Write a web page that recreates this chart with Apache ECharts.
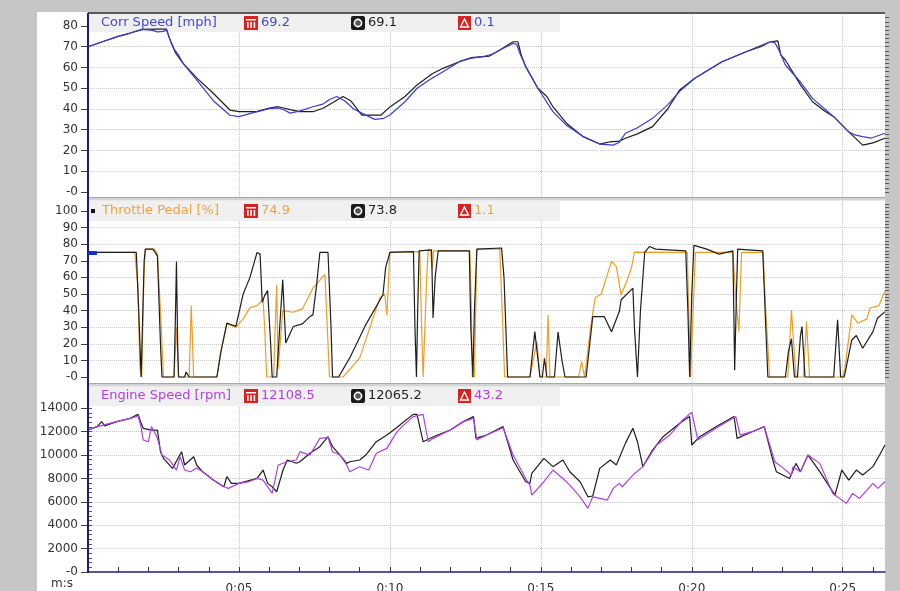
<!DOCTYPE html>
<html>
<head>
<meta charset="utf-8">
<title>Lap overlay</title>
<script src="https://cdn.jsdelivr.net/npm/echarts@6.0.0/dist/echarts.min.js"></script>
<style>
html, body { margin:0; padding:0; background:#c6c6c6; }
#main { width:900px; height:591px; }
</style>
</head>
<body>
<div id="main"></div>
<script>
// [time s, value] - black = reference lap, coloured = current lap
var speedRef = [[0,70],[0.5,72.5],[1.0,75],[1.4,76.6],[1.8,78.4],[2.3,78.5],[2.6,78.5],[2.75,72],[2.9,67],[3.15,62],[3.6,55],[4.15,47.6],[4.7,39.5],[5.0,38.7],[5.6,38.7],[6.0,40.4],[6.3,41.1],[6.7,39.7],[7.0,38.7],[7.45,38.7],[7.8,40.5],[8.1,43],[8.45,46],[8.7,44],[9.07,37],[9.3,37],[9.7,37],[10.0,41],[10.5,46],[10.9,51.6],[11.4,57],[11.76,59.6],[12.3,62.8],[12.7,64.8],[13.08,65.2],[13.3,65.5],[13.64,68.4],[14.08,72.4],[14.24,72.4],[14.35,66],[14.5,60.4],[14.9,50],[15.2,46],[15.4,41.1],[15.86,33],[16.4,26.7],[16.95,23.1],[17.3,24.2],[17.6,24.5],[17.8,25.9],[18.2,28],[18.7,31.5],[19.2,40],[19.6,49.2],[20.1,54.8],[21.0,62.8],[21.8,67.6],[22.6,72.4],[22.85,72.8],[22.95,66],[23.1,63.6],[23.6,51.6],[24.0,43.5],[24.4,39],[24.7,36.3],[25.2,29],[25.66,22.6],[26.0,23.7],[26.4,25.9]];
var speedCur = [[0,70],[0.5,72.5],[1.0,75],[1.4,76.6],[1.8,78.4],[2.1,78],[2.3,77.2],[2.5,77.4],[2.6,78.2],[2.7,74],[2.85,69],[3.0,66],[3.15,62],[3.6,54],[4.15,44],[4.7,37],[5.0,36.3],[5.3,37.5],[5.6,38.7],[6.0,40.2],[6.3,40.5],[6.5,39.5],[6.7,38],[7.0,39],[7.45,41.1],[7.8,42.5],[8.0,44.6],[8.24,46],[8.5,44],[8.8,40],[9.07,38],[9.5,35],[9.8,35.5],[10.0,37.1],[10.5,43.5],[10.9,50],[11.3,54],[11.76,58],[12.3,62.8],[12.7,64.5],[13.08,65.2],[13.4,66.5],[13.64,68.4],[14.08,71.6],[14.2,71.2],[14.3,67],[14.5,60.4],[14.9,50],[15.4,38.7],[15.86,32],[16.4,26.7],[16.95,23.1],[17.4,22.6],[17.6,24],[17.8,28.3],[18.2,31],[18.7,35.5],[19.2,42],[19.6,48.5],[20.1,54.8],[21.0,62.8],[21.8,67.6],[22.3,70],[22.6,72.4],[22.75,72],[22.9,68],[23.1,61.2],[23.6,53],[24.0,45.1],[24.7,36.3],[25.2,29],[25.4,27.5],[25.66,26.7],[25.95,26],[26.4,28.3]];

var throttleRef = [[0,75],[1.6,75],[1.68,40],[1.76,0],[1.8,0],[1.86,70],[1.9,77],[2.15,77],[2.3,73],[2.4,20],[2.45,0],[2.85,0],[2.9,40],[2.93,69.6],[2.97,20],[3.0,0],[3.2,0],[3.25,3],[3.35,0],[4.27,0],[4.4,15],[4.6,32.5],[4.9,30.5],[5.14,50],[5.36,59.7],[5.6,75],[5.7,74],[5.77,45],[5.85,49],[5.95,52],[6.05,20],[6.1,0],[6.25,0],[6.35,30],[6.45,58.6],[6.55,20.5],[6.8,30.4],[7.1,32],[7.35,36.4],[7.45,37.4],[7.57,55],[7.68,75],[7.95,75],[8.05,30],[8.1,0],[8.3,0],[8.67,11.5],[9.2,31.4],[9.77,49.5],[9.86,66],[10.0,75],[10.78,75.5],[10.83,30],[10.88,0],[10.92,40],[10.97,76],[11.38,76.6],[11.43,35.6],[11.5,60],[11.6,76],[12.63,76],[12.68,30],[12.75,0],[12.8,40],[12.88,77],[13.7,77.7],[13.78,60],[13.9,0],[14.64,0],[14.8,27.3],[14.97,0],[15.05,0],[15.12,11.3],[15.2,0],[15.45,0],[15.57,27],[15.7,10],[15.8,0],[16.5,0],[16.56,10],[16.72,36.4],[17.1,36.4],[17.34,27.3],[17.6,39.4],[17.66,46.5],[18.05,53.5],[18.1,30],[18.2,0],[18.3,40],[18.44,75],[18.6,78.6],[18.8,77],[19.8,76],[19.87,40],[19.93,0],[20.0,50],[20.07,79.3],[20.5,77],[20.9,74],[21.36,76],[21.4,30],[21.42,4],[21.48,50],[21.52,77],[22.35,76],[22.45,30],[22.52,0],[23.1,0],[23.2,15],[23.3,23],[23.4,0],[23.5,0],[23.6,25],[23.65,30.4],[23.75,0],[24.7,0],[24.83,34.4],[24.93,0],[25.05,0],[25.3,22.3],[25.45,25],[25.66,17.3],[26.0,27.3],[26.15,35.4],[26.4,39.4]];
var throttleCur = [[0,75],[1.55,75],[1.61,74],[1.65,55],[1.72,5],[1.78,0],[1.8,0],[1.85,60],[1.9,77],[2.2,77],[2.3,74],[2.4,40],[2.5,0],[2.85,0],[2.93,30],[3.0,0],[3.35,0],[3.42,43],[3.5,0],[4.27,0],[4.4,15],[4.6,32],[4.9,30],[5.14,35],[5.36,41.6],[5.6,43],[5.8,46.5],[5.85,30],[5.92,0],[6.15,0],[6.2,30],[6.25,55.5],[6.3,5],[6.45,40],[6.8,39],[7.1,41],[7.45,53.5],[7.78,60.5],[7.85,61.6],[7.95,20],[8.0,0],[8.45,0],[9.0,11.5],[9.67,47.7],[9.83,50],[9.9,37],[10.0,75.2],[10.99,75.5],[11.05,30],[11.1,0],[11.15,0],[11.22,60],[11.27,77],[11.35,76],[11.4,65],[11.45,76],[12.65,76],[12.7,40],[12.73,0],[12.8,0],[12.88,77],[13.64,77],[13.72,40],[13.8,0],[14.64,0],[14.87,21.3],[14.97,0],[15.18,0],[15.24,37.4],[15.3,0],[16.25,0],[16.35,9.2],[16.45,0],[16.5,0],[16.65,30],[16.8,47.7],[17.0,50],[17.34,69.6],[17.5,66.6],[17.66,49.5],[17.8,55.5],[18.0,65.6],[18.1,75.2],[19.85,75],[19.9,40],[19.96,0],[20.02,0],[20.12,75],[21.36,75],[21.45,50],[21.56,27.3],[21.65,75],[22.36,75],[22.45,40],[22.58,0],[23.18,0],[23.3,40.4],[23.45,0],[23.7,0],[23.8,33.4],[23.9,0],[25.0,0],[25.07,5],[25.3,37.4],[25.5,32.4],[25.8,35],[25.9,41.5],[26.2,43],[26.4,52]];

var rpmRef = [[0,12140],[0.3,12430],[0.45,12860],[0.55,12500],[0.95,12860],[1.4,13140],[1.66,13480],[1.75,12800],[1.83,12290],[2.1,12140],[2.3,12140],[2.4,10290],[2.5,9720],[2.8,8860],[3.1,10290],[3.2,9150],[3.5,9860],[3.6,9150],[3.8,8570],[4.15,7860],[4.5,7290],[4.6,8150],[4.75,7580],[5.0,7580],[5.6,8000],[5.8,8720],[5.95,7580],[6.1,7290],[6.25,6860],[6.46,8720],[6.6,9580],[6.9,9300],[7.02,9430],[7.35,10150],[7.68,10720],[7.95,11570],[8.1,10720],[8.35,10000],[8.57,9290],[8.67,9430],[9.0,9580],[9.2,10000],[9.55,11140],[9.9,11710],[10.2,12290],[10.4,12720],[10.77,13480],[10.9,13480],[11.1,11140],[11.44,11570],[12.0,12140],[12.43,12860],[12.77,13290],[12.85,11430],[13.2,11710],[13.75,12430],[14.08,9580],[14.5,7720],[14.64,7600],[14.7,8430],[15.1,9720],[15.4,9010],[15.73,9580],[15.96,8570],[16.3,7720],[16.56,6430],[16.72,6500],[16.95,8860],[17.3,9580],[17.5,9150],[17.8,11000],[18.05,12290],[18.2,11140],[18.38,9010],[18.7,10430],[19.05,11570],[19.6,12720],[19.93,13290],[20.0,10860],[20.26,11570],[20.8,12430],[21.4,13290],[21.5,11430],[22.0,12000],[22.4,12430],[22.7,9430],[22.8,8580],[23.24,8000],[23.45,9290],[23.6,8580],[23.85,10000],[24.24,8580],[24.74,6580],[24.97,8720],[25.2,7860],[25.45,8720],[25.66,8290],[26.0,9010],[26.22,10000],[26.4,10860]];
var rpmCur = [[0,12140],[0.3,12430],[0.95,12860],[1.4,13140],[1.66,13340],[1.75,12500],[1.83,11290],[2.0,11140],[2.1,12430],[2.2,12000],[2.3,11430],[2.45,10000],[2.7,9580],[2.93,8720],[3.05,9860],[3.2,8720],[3.4,8570],[3.6,8900],[3.8,8570],[4.15,7860],[4.5,7290],[4.65,7150],[5.0,7580],[5.3,7700],[5.6,8000],[5.8,7860],[6.1,6720],[6.3,9150],[6.6,9430],[6.9,9580],[7.02,10290],[7.35,10000],[7.68,11430],[7.95,11520],[8.1,10290],[8.35,10000],[8.57,9150],[8.67,8580],[9.0,9000],[9.3,8720],[9.55,10150],[9.9,10570],[10.2,11860],[10.4,12430],[10.77,13290],[11.1,13480],[11.27,11140],[11.44,11430],[12.0,12140],[12.43,12860],[12.77,13140],[12.88,11290],[13.2,11710],[13.75,12340],[13.9,11290],[14.08,10000],[14.5,8000],[14.64,7430],[14.7,6580],[15.1,7720],[15.4,8720],[15.73,8000],[15.96,7430],[16.3,6430],[16.56,5440],[16.72,6430],[16.95,6300],[17.2,6150],[17.4,7150],[17.6,7580],[17.7,7290],[18.05,8290],[18.38,9010],[18.84,10860],[19.27,11710],[19.7,13000],[20.0,13660],[20.2,11290],[20.8,12290],[21.46,13290],[21.6,11710],[22.0,12000],[22.4,12430],[22.75,9430],[22.97,9010],[23.3,8290],[23.35,9000],[23.6,8580],[23.85,10000],[24.24,9290],[24.67,6720],[25.12,5870],[25.33,6720],[25.56,6290],[26.0,7580],[26.16,7150],[26.4,7720]];

var speedTicks = [0,10,20,30,40,50,60,70,80];
var throttleTicks = [0,10,20,30,40,50,60,70,80,90,100];
var rpmTicks = [0,2000,4000,6000,8000,10000,12000,14000];
var timeGridTicks = [5,10,15,20,25];
var secondTicks = [0,1,2,3,4,5,6,7,8,9,10,11,12,13,14,15,16,17,18,19,20,21,22,23,24,25,26];

var headers = [
    {y:23, name:'Corr Speed [mph]', color:'#4646dc', cur:'69.2', ref:'69.1', diff:'0.1'},
    {y:211, name:'Throttle Pedal [%]', color:'#f0a33c', cur:'74.9', ref:'73.8', diff:'1.1'},
    {y:396, name:'Engine Speed [rpm]', color:'#b23ee6', cur:'12108.5', ref:'12065.2', diff:'43.2'}
];

function steps(a, b, s) {
    var out = [];
    for (var v = a; v <= b + 1e-9; v += s) out.push(Math.round(v * 100) / 100);
    return out;
}

var FONT = '"DejaVu Sans", sans-serif';
var AXIS_BLUE = '#1c1c86';
var GRID_LINE = {type:'dotted', color:'#c6c6c6'};

function yMain(idx, min, max, ticks) {
    return {
        type:'value', gridIndex:idx, min:min, max:max,
        axisLine:{show:false},
        axisTick:{show:true, customValues:ticks, length:7, lineStyle:{color:'#444'}},
        axisLabel:{customValues:ticks, margin:10, color:'#333', fontSize:12, fontFamily:FONT,
            formatter:function (v) { return v === 0 ? '-0' : String(v); }},
        splitLine:{show:true, showMinLine:false, showMaxLine:false, lineStyle:GRID_LINE}
    };
}
function yMinor(idx, min, max, ticks) {
    return {
        type:'value', gridIndex:idx, min:min, max:max,
        axisLine:{show:false},
        axisTick:{show:true, customValues:ticks, length:4, lineStyle:{color:'#555'}},
        axisLabel:{show:false},
        splitLine:{show:false}
    };
}
function xMain(idx, bottom) {
    return {
        type:'value', gridIndex:idx, min:0, max:26.4, interval:5,
        axisLine:{show:bottom, lineStyle:{color:AXIS_BLUE, width:1.5}},
        axisTick:{show:false},
        axisLabel:{show:bottom, customValues:timeGridTicks, margin:10, color:'#333', fontSize:12, fontFamily:FONT,
            formatter:function (v) { return '0:' + (v < 10 ? '0' + v : v); }},
        splitLine:{show:true, showMinLine:false, showMaxLine:false, lineStyle:GRID_LINE}
    };
}

function icons(h) {
    var cy = h.y, top = cy - 7, els = [];
    // max icon
    els.push({type:'rect', z:5, shape:{x:244, y:top, width:14, height:14}, style:{fill:'#d9211f'}});
    els.push({type:'rect', z:6, shape:{x:246, y:top + 3, width:10, height:1.5}, style:{fill:'#fff'}});
    [247, 250.3, 253.6].forEach(function (x) {
        els.push({type:'rect', z:6, shape:{x:x, y:top + 6, width:1.6, height:6}, style:{fill:'#fff'}});
    });
    // reference icon
    els.push({type:'rect', z:5, shape:{x:351, y:top, width:14, height:14, r:2}, style:{fill:'#1a1a1a'}});
    els.push({type:'circle', z:6, shape:{cx:358, cy:cy, r:3.6}, style:{fill:'#555', stroke:'#fff', lineWidth:1.6}});
    // delta icon
    els.push({type:'rect', z:5, shape:{x:458, y:top, width:13, height:14}, style:{fill:'#d9211f'}});
    els.push({type:'polygon', z:6, shape:{points:[[464.5, top + 3], [460.5, top + 11], [468.5, top + 11]]},
        style:{fill:'none', stroke:'#fff', lineWidth:1.4}});
    function txt(x, s, c) {
        return {type:'text', z:6, style:{x:x, y:cy, text:s, fill:c, font:'13px ' + FONT,
            verticalAlign:'middle', textVerticalAlign:'middle'}};
    }
    els.push(txt(h.name.indexOf('Throttle') === 0 ? 102 : 101, h.name, h.color));
    els.push(txt(261, h.cur, h.color));
    els.push(txt(368, h.ref, '#222'));
    els.push(txt(474, h.diff, h.color));
    return els;
}

var graphics = [
    {type:'rect', z:-10, shape:{x:37, y:12, width:848, height:579}, style:{fill:'#fff'}},
    {type:'rect', z:1, shape:{x:88, y:14, width:472, height:18}, style:{fill:'#f0f0f0'}},
    {type:'rect', z:1, shape:{x:88, y:201, width:472, height:20}, style:{fill:'#f0f0f0'}},
    {type:'rect', z:1, shape:{x:88, y:387, width:472, height:19}, style:{fill:'#f0f0f0'}},
    {type:'line', z:4, shape:{x1:88, y1:13, x2:885, y2:13}, style:{stroke:'#5a5a5a', lineWidth:2}},
    {type:'rect', z:4, shape:{x:88, y:197.5, width:797, height:3}, style:{fill:'#d4d4d4'}},
    {type:'line', z:4, shape:{x1:88, y1:197.5, x2:885, y2:197.5}, style:{stroke:'#a8a8a8', lineWidth:1}},
    {type:'rect', z:4, shape:{x:88, y:383.5, width:797, height:3}, style:{fill:'#d4d4d4'}},
    {type:'line', z:4, shape:{x1:88, y1:383.5, x2:885, y2:383.5}, style:{stroke:'#a8a8a8', lineWidth:1}},
    {type:'line', z:7, shape:{x1:88, y1:13, x2:88, y2:573}, style:{stroke:AXIS_BLUE, lineWidth:2}},
    {type:'rect', z:7, shape:{x:88, y:251, width:9, height:4}, style:{fill:'#1530c8'}},
    {type:'rect', z:6, shape:{x:91, y:209, width:4, height:4}, style:{fill:'#111'}},
    {type:'text', z:6, style:{x:62, y:584, text:'m:s', fill:'#333', font:'12px ' + FONT,
        align:'center', textAlign:'center', verticalAlign:'middle', textVerticalAlign:'middle'}}
];
headers.forEach(function (h) { graphics = graphics.concat(icons(h)); });

function line(name, data, xi, yi, color) {
    return {
        name:name, type:'line', xAxisIndex:xi, yAxisIndex:yi, data:data,
        showSymbol:false, symbol:'none', clip:true,
        lineStyle:{color:color, width:1.2}, itemStyle:{color:color}
    };
}

var chart = echarts.init(document.getElementById('main'));
chart.setOption({
    backgroundColor:'#c6c6c6',
    animation:false,
    grid:[
        {left:88, right:15, top:14, height:184, outerBoundsMode:'none'},
        {left:88, right:15, top:201, height:183, outerBoundsMode:'none'},
        {left:88, right:15, top:387, height:186, outerBoundsMode:'none'}
    ],
    xAxis:[
        xMain(0, false), xMain(1, false), xMain(2, true),
        {type:'value', gridIndex:2, min:0, max:26.4,
            axisLine:{show:false}, axisLabel:{show:false}, splitLine:{show:false},
            axisTick:{show:true, customValues:secondTicks, length:5, lineStyle:{color:'#333'}}}
    ],
    yAxis:[
        yMain(0, -2.89, 85.78, speedTicks),
        yMain(1, -4.22, 106.0, throttleTicks),
        yMain(2, -85.5, 15821, rpmTicks),
        yMinor(0, -2.89, 85.78, steps(0, 84, 2)),
        yMinor(1, -4.22, 106.0, steps(0, 104, 2)),
        yMinor(2, -85.5, 15821, steps(0, 15600, 400))
    ],
    graphic:{elements:graphics},
    series:[
        line('Corr Speed ref', speedRef, 0, 0, '#1e1e1e'),
        line('Corr Speed', speedCur, 0, 0, '#3b3bd8'),
        line('Throttle Pedal', throttleCur, 1, 1, '#f39c22'),
        line('Throttle Pedal ref', throttleRef, 1, 1, '#1e1e1e'),
        line('Engine Speed ref', rpmRef, 2, 2, '#1e1e1e'),
        line('Engine Speed', rpmCur, 2, 2, '#b03ee8')
    ]
});
</script>
</body>
</html>
